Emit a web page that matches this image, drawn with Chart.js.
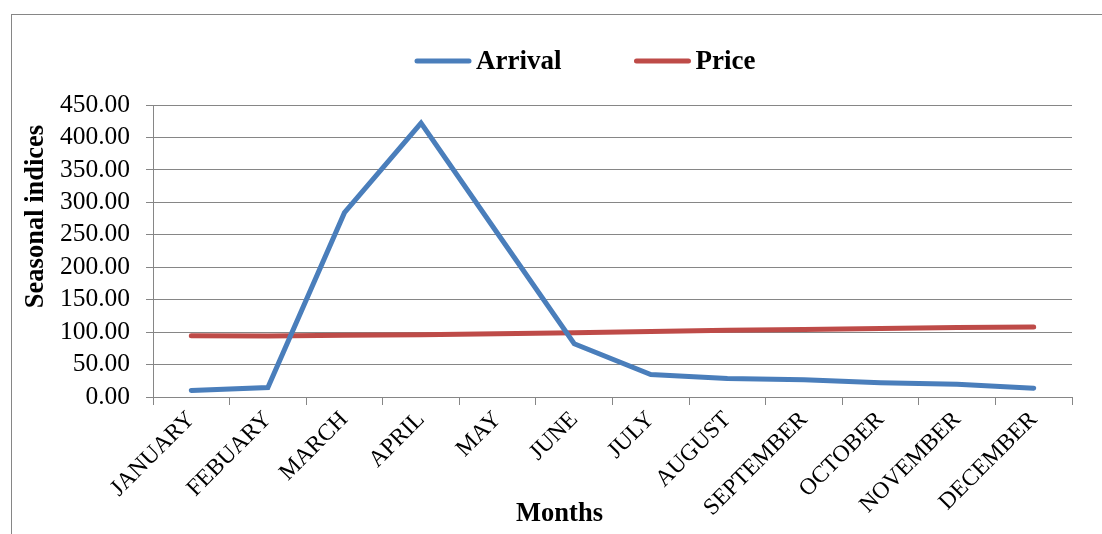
<!DOCTYPE html>
<html>
<head>
<meta charset="utf-8">
<title>Seasonal indices of arrival and price</title>
<script src="https://cdn.jsdelivr.net/npm/chart.js@4.4.0/dist/chart.umd.min.js"></script>
<style>
  html, body { margin: 0; padding: 0; background: #ffffff; }
  #wrap { width: 1102px; height: 534px; position: relative; }
</style>
</head>
<body>
<div id="wrap"><canvas id="chart" width="1102" height="534"></canvas></div>
<script>
// Months on the category axis
const months = ['JANUARY', 'FEBUARY', 'MARCH', 'APRIL', 'MAY', 'JUNE', 'JULY',
                'AUGUST', 'SEPTEMBER', 'OCTOBER', 'NOVEMBER', 'DECEMBER'];

// Seasonal indices per month
const arrival = [10, 14.5, 284, 422, 252, 82, 34.5, 28.5, 26.5, 22, 19.5, 13.5];
const price   = [94.5, 94, 95, 96, 97.5, 99, 101, 103, 104, 105.5, 107, 108];

// Value axis ticks
const yTickValues = [0, 50, 100, 150, 200, 250, 300, 350, 400, 450];

const seriesNames = ['Arrival', 'Price'];
const xTitle = 'Months';
const yTitle = 'Seasonal indices';

const SERIF = "'Liberation Serif', 'Times New Roman', serif";
const GRID = '#868686';

// Frame, legend and axis titles drawn on the canvas
const decorations = {
  id: 'decorations',
  beforeDraw(chart) {
    const ctx = chart.ctx;
    ctx.save();
    ctx.fillStyle = '#ffffff';
    ctx.fillRect(0, 0, chart.width, chart.height);
    ctx.strokeStyle = GRID;
    ctx.lineWidth = 1;
    ctx.strokeRect(11.5, 14.5, chart.width + 20, chart.height + 20);
    ctx.restore();
  },
  afterDraw(chart) {
    const ctx = chart.ctx;
    ctx.save();
    // legend
    ctx.font = 'bold 27px ' + SERIF;
    ctx.textBaseline = 'alphabetic';
    ctx.textAlign = 'left';
    let x = 415;
    chart.data.datasets.forEach((ds) => {
      ctx.strokeStyle = ds.borderColor;
      ctx.lineWidth = ds.borderWidth;
      ctx.lineCap = 'round';
      ctx.beginPath();
      ctx.moveTo(x + 2, 61);
      ctx.lineTo(x + 54, 61);
      ctx.stroke();
      ctx.fillStyle = '#000000';
      ctx.fillText(ds.label, x + 61, 69);
      x += 61 + ctx.measureText(ds.label).width + 73;
    });
    // x axis title
    ctx.font = 'bold 26.5px ' + SERIF;
    ctx.textAlign = 'center';
    ctx.fillText(xTitle, 559.5, 521);
    // y axis title
    ctx.translate(43, 216.5);
    ctx.rotate(-Math.PI / 2);
    ctx.fillText(yTitle, 0, 0);
    ctx.restore();
  }
};

new Chart(document.getElementById('chart'), {
  type: 'line',
  data: {
    labels: months,
    datasets: [
      {
        label: seriesNames[0],
        data: arrival,
        borderColor: '#4A7EBB',
        backgroundColor: '#4A7EBB',
        borderWidth: 5,
        pointRadius: 0,
        tension: 0,
        borderCapStyle: 'round',
        borderJoinStyle: 'miter'
      },
      {
        label: seriesNames[1],
        data: price,
        borderColor: '#BE4B48',
        backgroundColor: '#BE4B48',
        borderWidth: 5,
        pointRadius: 0,
        tension: 0,
        borderCapStyle: 'round',
        borderJoinStyle: 'miter'
      }
    ]
  },
  options: {
    responsive: false,
    animation: false,
    devicePixelRatio: 1,
    layout: { padding: { top: 105, left: 0, right: 30, bottom: 0 } },
    plugins: {
      legend: { display: false },
      tooltip: { enabled: false }
    },
    scales: {
      x: {
        type: 'category',
        offset: true,
        grid: {
          display: true,
          drawOnChartArea: false,
          drawTicks: true,
          tickLength: 8,
          color: GRID,
          offset: true
        },
        border: { display: true, color: GRID, width: 1 },
        ticks: {
          autoSkip: false,
          minRotation: 45,
          maxRotation: 45,
          padding: 1,
          color: '#000000',
          font: { family: SERIF, size: 23.5 }
        },
        afterFit(scale) { scale.height = 137; }
      },
      y: {
        min: 0,
        max: 450,
        afterBuildTicks(scale) {
          scale.ticks = yTickValues.map(v => ({ value: v }));
        },
        grid: {
          color: GRID,
          lineWidth: 1,
          drawTicks: true,
          tickLength: 7
        },
        border: { display: true, color: GRID, width: 1 },
        ticks: {
          autoSkip: false,
          padding: 16,
          color: '#000000',
          font: { family: SERIF, size: 25.5 },
          callback: (v) => Number(v).toFixed(2)
        },
        afterFit(scale) { scale.width = 153; }
      }
    }
  },
  plugins: [decorations]
});
</script>
</body>
</html>
